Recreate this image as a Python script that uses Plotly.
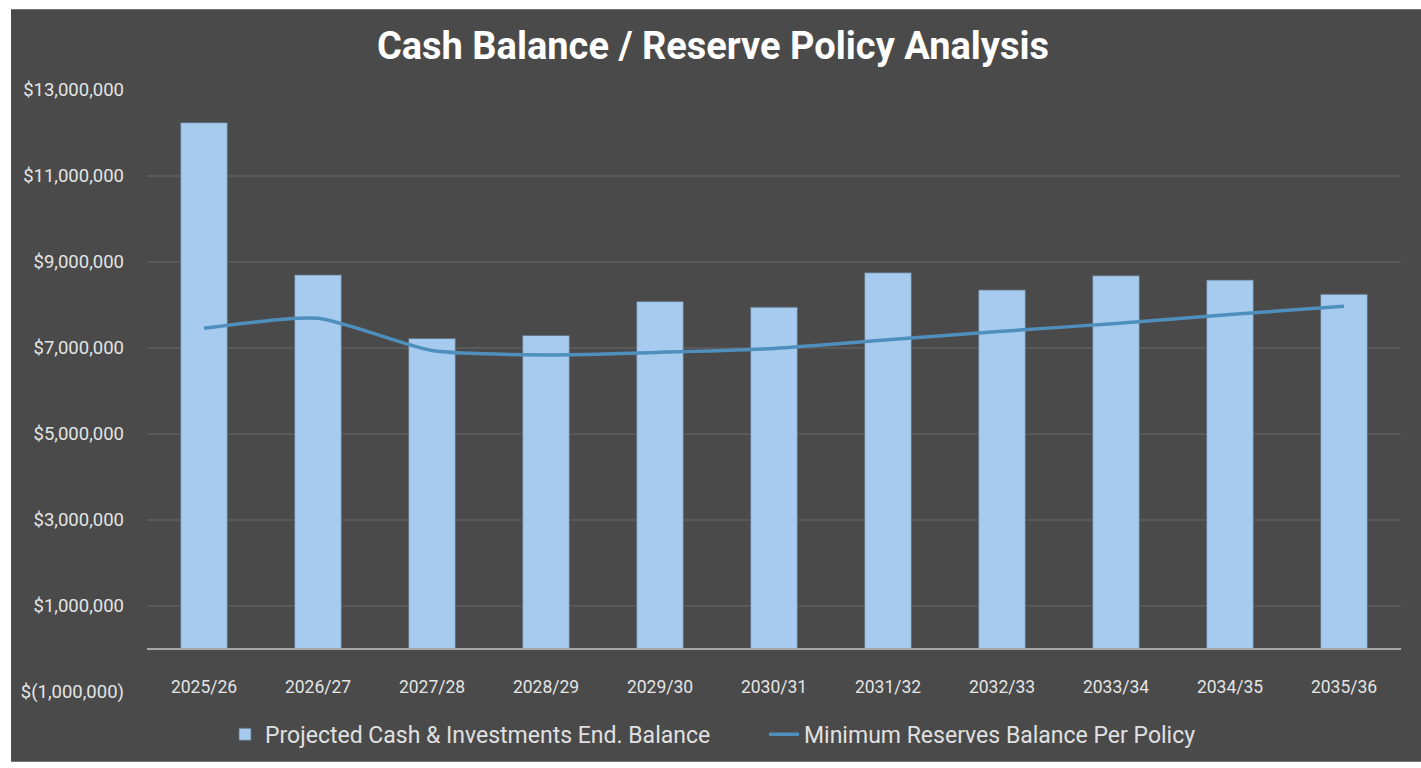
import plotly.graph_objects as go

years = ["2025/26", "2026/27", "2027/28", "2028/29", "2029/30", "2030/31",
         "2031/32", "2032/33", "2033/34", "2034/35", "2035/36"]
cash_balance = [12240000, 8700000, 7220000, 7290000, 8080000, 7950000,
                8750000, 8350000, 8680000, 8580000, 8250000]
min_reserves = [7460000, 7690000, 6940000, 6840000, 6900000, 6990000,
                7190000, 7390000, 7570000, 7780000, 7970000]
y_tickvals = [-1000000, 1000000, 3000000, 5000000, 7000000, 9000000, 11000000, 13000000]
y_ticktext = ["$(1,000,000)", "$1,000,000", "$3,000,000", "$5,000,000",
              "$7,000,000", "$9,000,000", "$11,000,000", "$13,000,000"]

W, H = 1421, 768
L, R, T, B = 147, 20, 90, 66
pw, ph = W - L - R, H - T - B

def px_x(p):
    return (p - L) / pw

def px_y(p):
    return (H - B - p) / ph

FONT = "Roboto, Liberation Sans, sans-serif"
BG = "#4a4a4a"

fig = go.Figure()
fig.add_trace(go.Bar(
    x=years, y=cash_balance, name="Projected Cash & Investments End. Balance",
    marker=dict(color="#a6cbee", line=dict(color="#5f7080", width=0.8)),
))
fig.add_trace(go.Scatter(
    x=years, y=min_reserves, name="Minimum Reserves Balance Per Policy",
    mode="lines", line=dict(color="#4f8fbd", width=3.5, shape="spline", smoothing=0.6),
))

fig.update_layout(
    width=W, height=H,
    margin=dict(l=L, r=R, t=T, b=B),
    paper_bgcolor="white",
    plot_bgcolor=BG,
    bargap=0.59,
    title=dict(text="<b>Cash Balance / Reserve Policy Analysis</b>",
               x=713 / W, xref="container", xanchor="center",
               y=1 - 46 / H, yref="container", yanchor="middle",
               font=dict(family=FONT, size=38, color="white")),
    font=dict(family=FONT, color="#dcdcdc"),
    shapes=[dict(type="rect", xref="paper", yref="paper", layer="below",
                 x0=px_x(11), x1=px_x(W + 5), y0=px_y(H + 5), y1=px_y(8),
                 fillcolor=BG, line=dict(width=0))],
    legend=dict(orientation="h", x=px_x(225), xanchor="left",
                y=px_y(745), yanchor="middle",
                entrywidth=494, entrywidthmode="pixels",
                font=dict(family=FONT, size=23, color="#e0e0e0"),
                bgcolor="rgba(0,0,0,0)", traceorder="normal"),
    xaxis=dict(type="category", anchor="free", position=1 / 14,
               showline=True, linecolor="#a8a8a8", linewidth=2,
               showgrid=False, ticks="", ticklabelstandoff=22,
               tickfont=dict(family=FONT, size=17.5, color="#e4e4e4")),
    yaxis=dict(range=[-1000000, 13000000], tickvals=y_tickvals, ticktext=y_ticktext,
               showgrid=True, gridcolor="#595959", gridwidth=1.5,
               zeroline=False, showline=False, ticks="", ticklabelstandoff=22,
               tickfont=dict(family=FONT, size=18.5, color="#e4e4e4")),
)

fig.write_html("out.html")
